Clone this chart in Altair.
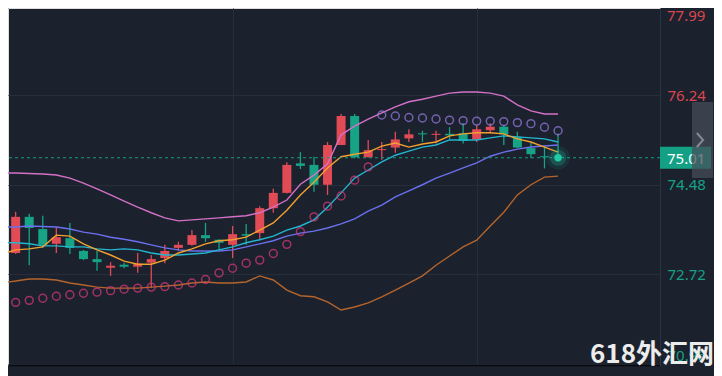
import altair as alt
import pandas as pd

# ---------------- data ----------------
candle_idx = list(range(41))
open_ = [73.14, 73.85, 73.61, 73.32, 73.43, 73.18, 73.02, 72.85, 72.91, 72.87, 72.95, 73.04, 73.24, 73.30,
         73.49, 73.40, 73.30, 73.51, 73.53, 74.02, 74.32, 74.90, 74.87, 74.48, 75.26, 75.83, 75.02, 75.16,
         75.21, 75.39, 75.49, 75.46, 75.48, 75.49, 75.37, 75.55, 75.62, 75.42, 75.20, 75.04, 75.03]
high = [73.95, 73.91, 73.87, 73.65, 73.73, 73.20, 73.18, 72.96, 72.95, 73.14, 73.10, 73.30, 73.36, 73.59,
        73.73, 73.41, 73.67, 73.71, 74.06, 74.40, 74.92, 75.12, 75.03, 75.32, 75.87, 75.87, 75.36, 75.32,
        75.52, 75.57, 75.54, 75.54, 75.61, 75.69, 75.65, 75.69, 75.65, 75.52, 75.31, 75.23, 75.48]
low = [73.12, 72.90, 73.24, 73.14, 73.12, 73.00, 72.79, 72.69, 72.84, 72.75, 72.45, 72.94, 73.18, 73.28,
       73.36, 73.20, 73.04, 73.30, 73.39, 73.93, 74.31, 74.79, 74.34, 74.28, 75.26, 75.00, 75.02, 74.97,
       75.11, 75.32, 75.32, 75.29, 75.37, 75.29, 75.32, 75.49, 75.26, 75.20, 75.00, 74.80, 75.00]
close = [73.85, 73.63, 73.30, 73.45, 73.24, 73.02, 72.96, 72.89, 72.87, 72.93, 73.02, 73.18, 73.30, 73.49,
         73.43, 73.34, 73.51, 73.48, 74.02, 74.32, 74.87, 74.85, 74.48, 75.26, 75.83, 75.02, 75.16, 75.18,
         75.37, 75.47, 75.47, 75.48, 75.45, 75.34, 75.57, 75.62, 75.47, 75.21, 75.08, 75.02, 75.01]

line_idx = list(range(-1, 41))
boll_upper = [74.71, 74.71, 74.70, 74.69, 74.67, 74.61, 74.51, 74.40, 74.28, 74.16, 74.04, 73.93, 73.83, 73.77,
              73.79, 73.81, 73.83, 73.85, 73.87, 73.93, 74.04, 74.18, 74.49, 74.67, 74.89, 75.46, 75.63, 75.77,
              75.89, 76.01, 76.11, 76.16, 76.22, 76.28, 76.30, 76.30, 76.28, 76.22, 76.05, 75.93, 75.87, 75.87]
boll_mid = [73.65, 73.65, 73.67, 73.66, 73.65, 73.61, 73.55, 73.51, 73.45, 73.41, 73.36, 73.30, 73.24, 73.20,
            73.18, 73.18, 73.18, 73.20, 73.26, 73.32, 73.38, 73.47, 73.53, 73.57, 73.63, 73.71, 73.81, 73.96,
            74.08, 74.24, 74.36, 74.48, 74.61, 74.71, 74.81, 74.91, 75.04, 75.12, 75.18, 75.22, 75.24, 75.26]
boll_lower = [72.55, 72.59, 72.63, 72.63, 72.61, 72.55, 72.51, 72.47, 72.45, 72.45, 72.45, 72.47, 72.49, 72.51,
              72.55, 72.57, 72.55, 72.55, 72.57, 72.69, 72.61, 72.41, 72.30, 72.28, 72.18, 72.02, 72.08, 72.16,
              72.28, 72.41, 72.55, 72.69, 72.90, 73.08, 73.26, 73.39, 73.67, 73.94, 74.28, 74.48, 74.63, 74.65]
ma5 = [73.12, 73.20, 73.22, 73.26, 73.49, 73.47, 73.32, 73.20, 73.10, 72.98, 72.92, 72.92, 73.00, 73.14,
       73.22, 73.32, 73.38, 73.40, 73.45, 73.59, 73.73, 73.98, 74.28, 74.53, 74.81, 75.03, 75.08, 75.12,
       75.24, 75.30, 75.22, 75.28, 75.32, 75.44, 75.48, 75.50, 75.50, 75.48, 75.38, 75.32, 75.22, 75.12]
ma10 = [73.34, 73.34, 73.32, 73.28, 73.28, 73.26, 73.26, 73.22, 73.20, 73.22, 73.20, 73.14, 73.10, 73.10,
        73.12, 73.14, 73.20, 73.26, 73.34, 73.40, 73.47, 73.59, 73.67, 73.79, 74.04, 74.32, 74.61, 74.77,
        74.93, 75.06, 75.14, 75.22, 75.26, 75.36, 75.36, 75.36, 75.40, 75.44, 75.42, 75.40, 75.38, 75.32]

sar_idx = list(range(41))
sar = [72.17, 72.21, 72.25, 72.29, 72.32, 72.35, 72.37, 72.40, 72.43, 72.45, 72.47, 72.48, 72.51, 72.55,
       72.62, 72.75, 72.84, 72.94, 73.00, 73.13, 73.31, 73.56, 73.85, 74.06, 74.26, 74.57, 74.83, 75.85,
       75.83, 75.80, 75.79, 75.77, 75.75, 75.74, 75.73, 75.73, 75.72, 75.70, 75.68, 75.61, 75.54]

axis_values = [76.24, 74.48, 72.72, 70.96]
top_label = "77.99"
top_value = 77.99
last_price = 75.01
last_label = "75.01"
grid_x = [16, 34]
watermark = "618外汇网"

# ---------------- styling ----------------
BG = "#1b212d"
RED = "#e04b55"
GREEN = "#16a386"
GRID = "#262d3b"
FONT = "Noto Sans"

xs = alt.Scale(domain=[-0.196, 47.15], nice=False, zero=False)
ys = alt.Scale(domain=[70.94, 77.951], nice=False, zero=False)

x_axis = alt.Axis(values=grid_x, grid=True, gridColor=GRID, labels=False, ticks=False,
                  domainColor="#07090d", domainWidth=1.5, title=None)
y_axis = alt.Axis(orient="right", values=axis_values, format=".2f", grid=True, gridColor=GRID,
                  ticks=False, domainColor="#2b3242", labelPadding=7, labelFont=FONT,
                  labelFontSize=15, labelFlush=2,
                  labelColor={"condition": {"test": "datum.value > 75", "value": "#dc4650"},
                              "value": "#17a086"},
                  title=None)


def X(field):
    return alt.X(field, scale=xs, axis=x_axis)


def Y(field):
    return alt.Y(field, scale=ys, axis=y_axis)


cdf = pd.DataFrame({"i": candle_idx, "open": open_, "high": high, "low": low, "close": close})
cdf["col"] = [RED if c >= o else GREEN for o, c in zip(open_, close)]

rows = []
for name, vals in [("upper", boll_upper), ("lower", boll_lower), ("mid", boll_mid),
                   ("ma10", ma10), ("ma5", ma5)]:
    for i, v in zip(line_idx, vals):
        rows.append({"i": i, "v": v, "s": name})
ldf = pd.DataFrame(rows)

sdf = pd.DataFrame({"i": sar_idx, "v": sar})
sdf["col"] = ["#dc3a80" if s < c else "#9c7ee6" for s, c in zip(sar, close)]

pdf = pd.DataFrame({"i": [candle_idx[-1]], "v": [last_price], "t": [last_label]})
tdf = pd.DataFrame({"v": [top_value], "t": [top_label]})
one = pd.DataFrame({"k": [0]})

wicks = alt.Chart(cdf).mark_rule(strokeWidth=1.3).encode(
    x=X("i:Q"), y=Y("low:Q"), y2="high:Q", color=alt.Color("col:N", scale=None))
bodies = alt.Chart(cdf).mark_bar(width=9).encode(
    x=X("i:Q"), y=Y("open:Q"), y2="close:Q", color=alt.Color("col:N", scale=None))

lines = alt.Chart(ldf).mark_line(strokeWidth=1.4, clip=True).encode(
    x=X("i:Q"), y=Y("v:Q"),
    color=alt.Color("s:N", legend=None,
                    scale=alt.Scale(domain=["upper", "lower", "mid", "ma10", "ma5"],
                                    range=["#d371c6", "#b5652c", "#6b70ee", "#22b6cf", "#f2a02f"])),
    detail="s:N")

sar_pts = alt.Chart(sdf).mark_point(shape="circle", filled=False, size=62, strokeWidth=1.5).encode(
    x=X("i:Q"), y=Y("v:Q"), color=alt.Color("col:N", scale=None))

price_rule = alt.Chart(pdf).mark_rule(strokeDash=[3, 3], color="#1a9a80", strokeWidth=1).encode(
    y=Y("v:Q"))

glow1 = alt.Chart(pdf).mark_circle(size=560, opacity=0.10, color="#1ec9a6").encode(x=X("i:Q"), y=Y("v:Q"))
glow2 = alt.Chart(pdf).mark_circle(size=260, opacity=0.22, color="#1ec9a6").encode(x=X("i:Q"), y=Y("v:Q"))
glow3 = alt.Chart(pdf).mark_circle(size=55, opacity=1, color="#22c9a6").encode(x=X("i:Q"), y=Y("v:Q"))

box = alt.Chart(pdf).mark_point(shape="M-1,-0.43L1,-0.43L1,0.43L-1,0.43Z", filled=True, size=2601,
                                 color="#14a085", opacity=1, strokeWidth=0).encode(
    x=alt.value(677.5), y=Y("v:Q"))
box_text = alt.Chart(pdf).mark_text(align="left", baseline="middle", font=FONT, fontSize=15,
                                    color="#ffffff", dy=1).encode(
    x=alt.value(659), y=Y("v:Q"), text="t:N")

top_text = alt.Chart(tdf).mark_text(align="left", baseline="middle", font=FONT, fontSize=15,
                                    color="#dc4650", dy=10).encode(
    x=alt.value(659), y=Y("v:Q"), text="t:N")

panel = alt.Chart(one).mark_rect(color="#464c59", opacity=0.72).encode(
    x=alt.value(684), x2=alt.value(705), y=alt.value(94), y2=alt.value(170))
chevron = alt.Chart(one).mark_point(shape="M-0.45,-1L0.45,0L-0.45,1", filled=False, size=196,
                                    strokeWidth=2, color="#a3a8b2").encode(
    x=alt.value(692), y=alt.value(132))

wm = alt.Chart(one).mark_text(text=watermark, align="left", baseline="alphabetic",
                              font="Noto Sans CJK SC", fontSize=26, fontWeight="bold",
                              color="#ececec").encode(x=alt.value(582), y=alt.value(355))

chart = alt.layer(
    wicks, bodies, lines, sar_pts, price_rule, glow1, glow2, glow3,
    box, box_text, top_text, panel, chevron, wm
).properties(
    width=652, height=357,
    padding={"left": 0, "top": 0, "right": 54, "bottom": 11},
    autosize=alt.AutoSizeParams(type="none"),
    background=BG,
).configure_view(stroke=None, fill=BG).configure(font=FONT)

chart.save("out.html", embed_options={"renderer": "svg", "actions": False})
